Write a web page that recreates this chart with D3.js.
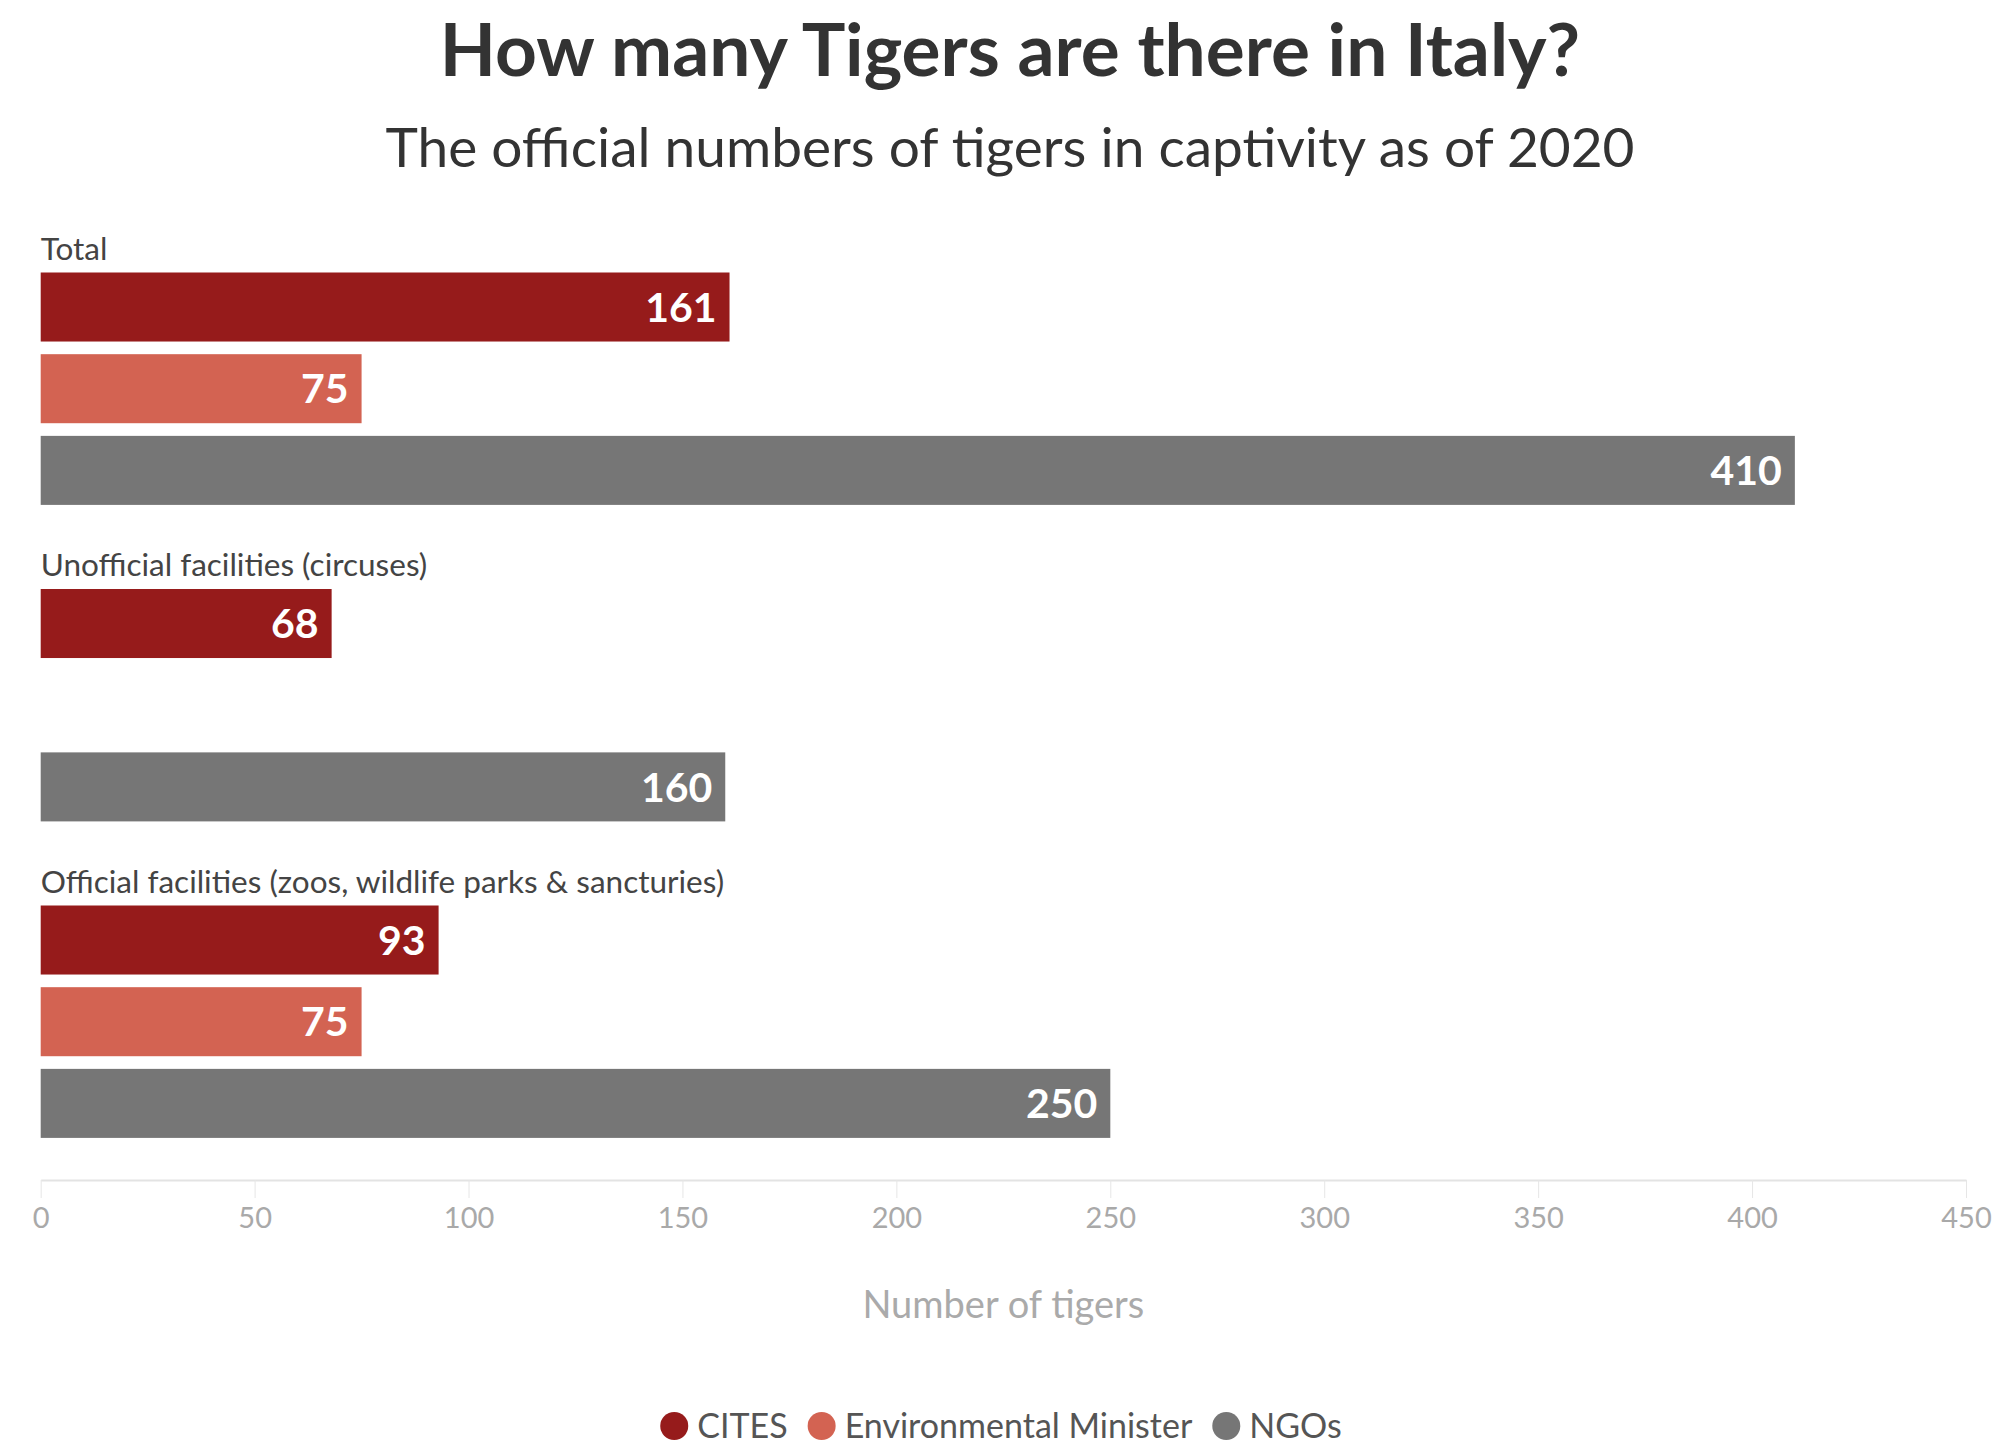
<!DOCTYPE html>
<html>
<head>
<meta charset="utf-8">
<script src="https://cdn.jsdelivr.net/npm/d3@7"></script>
<style>
  html, body { margin: 0; padding: 0; background: #fff; }
  svg { display: block; font-family: Lato, "Noto Sans", sans-serif; }
</style>
</head>
<body>
<div id="chart"></div>
<script>
// data
const groups = ['Total', 'Unofficial facilities (circuses)', 'Official facilities (zoos, wildlife parks & sancturies)'];
const series = ['CITES', 'Environmental Minister', 'NGOs'];
const cites = [161, 68, 93];
const envMinister = [75, null, 75];
const ngos = [410, 160, 250];
const xTickValues = [0, 50, 100, 150, 200, 250, 300, 350, 400, 450];
const colors = ['#961b1b', '#d36352', '#767676'];

const width = 1994;
const height = 1449;

const svg = d3.select('#chart')
  .append('svg')
  .attr('width', width)
  .attr('height', height);

// titles
svg.append('text')
  .attr('x', 1010)
  .attr('y', 76)
  .attr('text-anchor', 'middle')
  .style('font-size', '73px')
  .style('font-weight', 700)
  .style('fill', '#333')
  .text('How many Tigers are there in Italy?');

svg.append('text')
  .attr('x', 1010)
  .attr('y', 167)
  .attr('text-anchor', 'middle')
  .style('font-size', '55px')
  .style('fill', '#333')
  .text('The official numbers of tigers in captivity as of 2020');

// scales
const x = d3.scaleLinear()
  .domain([0, 450])
  .range([40.7, 1966]);

const yGroup = d3.scaleBand()
  .domain(groups)
  .range([272.5, 272.5 + 3 * 316.5]);

const ySeries = d3.scaleBand()
  .domain(series)
  .range([0, 232.4])
  .paddingInner(0.155);

const rows = [];
groups.forEach((g, i) => {
  [cites[i], envMinister[i], ngos[i]].forEach((v, j) => {
    if (v != null) rows.push({ group: g, series: series[j], value: v, color: colors[j] });
  });
});

// group labels
svg.append('g')
  .selectAll('text')
  .data(groups)
  .enter()
  .append('text')
  .attr('x', x(0))
  .attr('y', d => yGroup(d) - 13)
  .style('font-size', '31.5px')
  .style('fill', '#444')
  .text(d => d);

// bars
const bars = svg.append('g');
bars.selectAll('rect')
  .data(rows)
  .enter()
  .append('rect')
  .attr('x', x(0))
  .attr('y', d => yGroup(d.group) + ySeries(d.series))
  .attr('width', d => x(d.value) - x(0))
  .attr('height', ySeries.bandwidth())
  .style('fill', d => d.color);

bars.selectAll('text')
  .data(rows)
  .enter()
  .append('text')
  .attr('x', d => x(d.value) - 13)
  .attr('y', d => yGroup(d.group) + ySeries(d.series) + ySeries.bandwidth() / 2)
  .attr('dy', '0.36em')
  .attr('text-anchor', 'end')
  .style('font-size', '41px')
  .style('font-weight', 700)
  .style('fill', '#fff')
  .text(d => d.value);

// x axis
const axis = svg.append('g')
  .attr('transform', 'translate(0,1180)')
  .call(d3.axisBottom(x).tickValues(xTickValues).tickSize(18).tickSizeOuter(0).tickPadding(9));
axis.select('.domain').attr('stroke', '#e3e3e3').attr('stroke-width', 2);
axis.selectAll('.tick line').attr('stroke', '#e6e6e6');
axis.selectAll('.tick text')
  .style('font-family', 'Lato, sans-serif')
  .style('font-size', '29px')
  .style('fill', '#a9a9a9');

svg.append('text')
  .attr('x', x(225))
  .attr('y', 1318)
  .attr('text-anchor', 'middle')
  .style('font-size', '38px')
  .style('fill', '#aaa')
  .text('Number of tigers');

// legend
const legend = svg.append('g');
let lx = 0;
series.forEach((s, i) => {
  const item = legend.append('g').attr('transform', 'translate(' + lx + ',0)');
  item.append('circle')
    .attr('cx', 14)
    .attr('cy', 0)
    .attr('r', 14)
    .style('fill', colors[i]);
  const t = item.append('text')
    .attr('x', 37)
    .attr('dy', '0.36em')
    .style('font-size', '34px')
    .style('fill', '#555')
    .text(s);
  lx += 37 + t.node().getComputedTextLength() + 20;
});
legend.attr('transform', 'translate(' + (1001 - (lx - 20) / 2) + ',1426)');
</script>
</body>
</html>
